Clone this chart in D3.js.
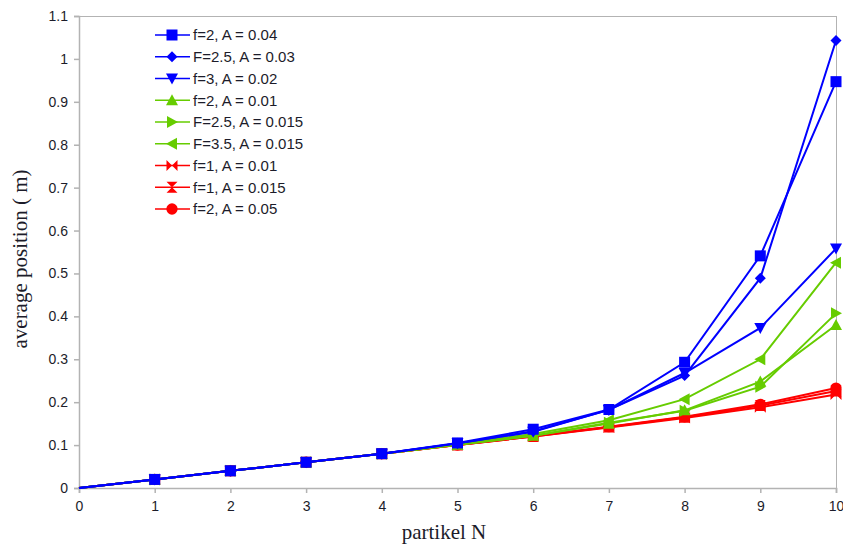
<!DOCTYPE html>
<html><head><meta charset="utf-8">
<script src="https://cdn.jsdelivr.net/npm/d3@7"></script>
<style>body{margin:0;background:#fff}svg{display:block}</style>
</head><body>
<svg id="c" width="843" height="544"></svg>
<script>
const xValues = [0,1,2,3,4,5,6,7,8,9,10];
const seriesNames = ["f=2, A = 0.04","F=2.5, A = 0.03","f=3, A = 0.02","f=2, A = 0.01","F=2.5, A = 0.015","F=3.5, A = 0.015","f=1, A = 0.01","f=1, A = 0.015","f=2, A = 0.05"];
const s_f2A04   = [0,0.02,0.04,0.06,0.08,0.105,0.137,0.183,0.293,0.541,0.947];
const s_F25A03  = [0,0.02,0.04,0.06,0.08,0.104,0.132,0.182,0.262,0.489,1.043];
const s_f3A02   = [0,0.02,0.04,0.06,0.08,0.104,0.131,0.182,0.268,0.373,0.558];
const s_f2A01   = [0,0.02,0.04,0.06,0.08,0.101,0.122,0.150,0.181,0.248,0.380];
const s_F25A015 = [0,0.02,0.04,0.06,0.08,0.101,0.122,0.152,0.180,0.236,0.407];
const s_F35A015 = [0,0.02,0.04,0.06,0.08,0.102,0.126,0.158,0.207,0.300,0.525];
const s_f1A01   = [0,0.02,0.04,0.06,0.08,0.100,0.120,0.141,0.163,0.188,0.218];
const s_f1A015  = [0,0.02,0.04,0.06,0.08,0.100,0.120,0.142,0.165,0.192,0.226];
const s_f2A05   = [0,0.02,0.04,0.06,0.08,0.100,0.121,0.143,0.166,0.195,0.233];
const seriesValues = [s_f2A04,s_F25A03,s_f3A02,s_f2A01,s_F25A015,s_F35A015,s_f1A01,s_f1A015,s_f2A05];
const seriesColors = ["#0000ff","#0000ff","#0000ff","#66cc00","#66cc00","#66cc00","#ff0000","#ff0000","#ff0000"];
const seriesMarkers = ["square","diamond","tdown","tup","tright","tleft","bowtie","hourglass","circle"];
const xTicks = [0,1,2,3,4,5,6,7,8,9,10];
const yTicks = [0,0.1,0.2,0.3,0.4,0.5,0.6,0.7,0.8,0.9,1,1.1];

const svg = d3.select("#c");
const L=79, R=836, T=16, B=488;
const x = d3.scaleLinear().domain([0,10]).range([L,R]);
const y = d3.scaleLinear().domain([0,1.1]).range([B,T]);
const axisCol = "#b3b3b3";
const sans = "'Liberation Sans', Arial, sans-serif";
const serif = "'Liberation Serif', 'Times New Roman', serif";

// frame
svg.append("line").attr("x1",L).attr("x2",R).attr("y1",T+0.5).attr("y2",T+0.5).attr("stroke",axisCol);
svg.append("line").attr("x1",R+0.5).attr("x2",R+0.5).attr("y1",T).attr("y2",B).attr("stroke",axisCol);

const xAxis = svg.append("g").attr("transform",`translate(0,${B})`)
  .call(d3.axisBottom(x).tickValues(xTicks).tickSize(5).tickPadding(8).tickFormat(d3.format("d")));
const yAxis = svg.append("g").attr("transform",`translate(${L},0)`)
  .call(d3.axisLeft(y).tickValues(yTicks).tickSize(5).tickPadding(6).tickFormat(d=>String(+d.toFixed(1))));
[xAxis,yAxis].forEach(a=>{
  a.select(".domain").attr("stroke",axisCol).attr("stroke-width",1.5);
  a.selectAll(".tick line").attr("stroke",axisCol).attr("stroke-width",1.5);
  a.selectAll("text").attr("fill","#1c1c2a").style("font-family",sans).style("font-size","14px");
});

function markerPath(type){
  switch(type){
    case "square": return "M-5.5,-5.5H5.5V5.5H-5.5Z";
    case "diamond": return "M0,-5.5L5.5,0L0,5.5L-5.5,0Z";
    case "tdown": return "M-6,-5L6,-5L0,6Z";
    case "tup": return "M-6,5L6,5L0,-6Z";
    case "tright": return "M-5,-6L-5,6L6,0Z";
    case "tleft": return "M5,-6L5,6L-6,0Z";
    case "bowtie": return "M-5.5,-5.5L5.5,5.5L5.5,-5.5L-5.5,5.5Z";
    case "hourglass": return "M-5.5,-5.5L5.5,-5.5L-5.5,5.5L5.5,5.5Z";
    case "circle": return d3.symbol(d3.symbolCircle, 100)();
  }
}

const line = d3.line().x((d,i)=>x(xValues[i])).y(d=>y(d));
const order = d3.range(seriesValues.length).reverse();
order.forEach(k=>{
  const g = svg.append("g");
  g.append("path").attr("d",line(seriesValues[k])).attr("fill","none")
    .attr("stroke",seriesColors[k]).attr("stroke-width",2);
  g.selectAll("path.m").data(seriesValues[k].map((v,i)=>({v,i})).filter(d=>d.i>0)).enter()
    .append("path").attr("class","m").attr("d",markerPath(seriesMarkers[k]))
    .attr("transform",d=>`translate(${x(xValues[d.i])},${y(d.v)})`)
    .attr("fill",seriesColors[k]);
});

// legend
const lg = svg.append("g");
seriesNames.forEach((n,k)=>{
  const yy = 35 + k*21.75;
  lg.append("line").attr("x1",155).attr("x2",190).attr("y1",yy).attr("y2",yy).attr("stroke",seriesColors[k]).attr("stroke-width",1.5);
  lg.append("path").attr("d",markerPath(seriesMarkers[k])).attr("transform",`translate(172,${yy})`).attr("fill",seriesColors[k]);
  lg.append("text").attr("x",193).attr("y",yy).attr("dy","0.36em").text(n)
    .style("font-family",sans).style("font-size","15px").attr("fill","#1c1c2a");
});

svg.append("text").attr("transform",`translate(27,259) rotate(-90)`).attr("text-anchor","middle")
  .style("font-family",serif).style("font-size","21px").attr("fill","#1c1c2a").text("average position ( m)");
svg.append("text").attr("x",444).attr("y",539).attr("text-anchor","middle")
  .style("font-family",serif).style("font-size","21px").attr("fill","#1c1c2a").text("partikel N");
</script>
</body></html>
